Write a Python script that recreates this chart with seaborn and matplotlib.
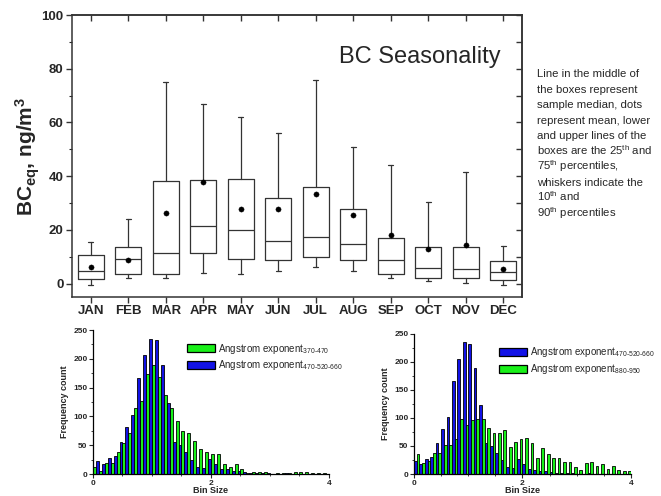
import numpy as np
import pandas as pd
import matplotlib
matplotlib.use("Agg")
import matplotlib.pyplot as plt
import seaborn as sns
from matplotlib.ticker import MultipleLocator

sns.set_style("ticks")
plt.rcParams['font.family'] = ['Liberation Sans', 'DejaVu Sans']
plt.rcParams['mathtext.fontset'] = 'custom'
plt.rcParams['mathtext.rm'] = 'Liberation Sans'
plt.rcParams['mathtext.it'] = 'Liberation Sans:italic'
plt.rcParams['mathtext.bf'] = 'Liberation Sans:bold'

# monthly BC box statistics (ng/m3)
months = ['JAN', 'FEB', 'MAR', 'APR', 'MAY', 'JUN', 'JUL', 'AUG', 'SEP', 'OCT', 'NOV', 'DEC']
p10 = [-0.6, 2.1, 2.2, 4.1, 3.7, 4.6, 6.2, 4.7, 2.2, 1.0, 0.2, -0.4]
p25 = [1.7, 3.7, 3.4, 11.2, 9.3, 8.8, 9.9, 8.8, 3.4, 2.2, 2.2, 1.5]
median = [4.6, 9.3, 11.2, 21.6, 19.8, 16.0, 17.3, 14.9, 8.9, 5.8, 5.5, 4.2]
p75 = [10.8, 13.5, 38.1, 38.4, 38.8, 32.0, 36.0, 27.6, 16.8, 13.7, 13.7, 8.3]
p90 = [15.5, 24.2, 75.2, 66.7, 62.1, 55.9, 75.7, 50.7, 44.2, 30.4, 41.4, 14.0]
mean = [6.0, 8.8, 26.1, 37.9, 27.7, 27.7, 33.5, 25.5, 18.0, 13.0, 14.5, 5.5]

# angstrom exponent histograms, bins of 0.1 from 0 to 4
bin_centres = np.round(np.arange(0.05, 4.0, 0.1), 2)
ae_370_470 = [13, 4.6, 19, 18.5, 37.6, 53, 70.6, 114, 126, 173, 189, 168, 137, 115, 92, 74, 71, 58, 43, 38,
              35, 34, 18, 12, 17, 8, 2, 4, 3, 3.5, 0.5, 1, 1, 2.5, 3, 3.5, 3, 1, 1, 1]
ae_470_520_660 = [23, 17, 27, 31, 56, 81, 102, 166, 206, 235, 233, 190, 123, 55, 50, 38, 25, 12, 11, 26,
                  17, 9, 8, 6, 6, 4, 1, 1.5, 2, 2, 0.5, 0.5, 1, 0.5, 0.5, 0.5, 0.3, 0.3, 0.5, 0.3]
ae_880_950 = [36, 19, 24, 37, 38, 52, 51, 62, 99, 87, 96, 99, 98, 83, 73, 74, 78, 48, 58, 62,
              64, 56, 28, 46, 35, 29, 28, 22, 21, 13, 7, 19, 21, 14, 17, 9, 14, 6.5, 5, 5]

lab_370 = 'Angstrom exponent$_{\\mathrm{370‐470}}$'
lab_470 = 'Angstrom exponent$_{\\mathrm{470‐520‐660}}$'
lab_880 = 'Angstrom exponent$_{\\mathrm{880‐950}}$'
note_lines = ['Line in the middle of',
              'the boxes represent',
              'sample median, dots',
              'represent mean, lower',
              'and upper lines of the',
              'boxes are the 25$^{\\mathrm{th}}$ and',
              '75$^{\\mathrm{th}}$ percentiles,',
              'whiskers indicate the',
              '10$^{\\mathrm{th}}$ and',
              '90$^{\\mathrm{th}}$ percentiles']
GREEN = '#19f019'
BLUE = '#1212e6'

fig = plt.figure(figsize=(6.61, 4.96), dpi=100)

# ---- top: box plot ----
ax = fig.add_axes([0.1089, 0.4012, 0.6808, 0.5685])
stats = []
for i in range(len(months)):
    stats.append(dict(whislo=p10[i], q1=p25[i], med=median[i], q3=p75[i], whishi=p90[i], fliers=[]))
lc = '#333333'
ax.bxp(stats, positions=range(len(months)), widths=0.7, capwidths=0.14, showfliers=False,
       boxprops=dict(color=lc, linewidth=0.9), medianprops=dict(color=lc, linewidth=0.9),
       whiskerprops=dict(color=lc, linewidth=0.9), capprops=dict(color=lc, linewidth=0.9))
sns.scatterplot(x=np.arange(len(months)), y=mean, color='black', s=14, edgecolor='black', zorder=5, ax=ax)

ax.set_xlim(-0.5, 11.5)
ax.set_ylim(-5, 100)
ax.set_xticks(range(len(months)))
ax.set_xticklabels(months, fontsize=9.5, fontweight='bold')
ax.set_yticks([0, 20, 40, 60, 80, 100])
ax.set_yticklabels(['0', '20', '40', '60', '80', '100'], fontsize=9.5, fontweight='bold')
ax.yaxis.set_minor_locator(MultipleLocator(10))
ax.tick_params(axis='both', which='major', direction='out', length=4, width=1, pad=2, color='#333333')
ax.tick_params(axis='y', which='minor', direction='out', length=2.5, width=0.8)
for s in ax.spines.values():
    s.set_linewidth(1.1)
    s.set_color('#333333')
secx = ax.secondary_xaxis('top')
secx.set_xticks(range(len(months)))
secx.tick_params(direction='in', length=4, width=1, labeltop=False, color='#333333')
secy = ax.secondary_yaxis('right')
secy.set_yticks(range(0, 101, 10))
secy.tick_params(direction='in', length=4, width=1, labelright=False, color='#333333')
for s in list(secx.spines.values()) + list(secy.spines.values()):
    s.set_linewidth(1.1)
    s.set_color('#333333')

ax.set_ylabel('BC$_{\\mathbf{eq}}$, ng/m$^{\\mathbf{3}}$', fontsize=15, fontweight='bold', labelpad=0)
ax.text(0.593, 0.829, 'BC Seasonality', transform=ax.transAxes, fontsize=17, va='baseline', ha='left')

# note beside the box plot, one line at a time so the spacing stays even
for k, line in enumerate(note_lines):
    fig.text(537 / 661, 1 - (77.3 + 15.5 * k) / 496, line, fontsize=8.2, va='baseline', ha='left')


def histogram(axh, first, second, lab_a, lab_b, col_a, col_b, legend_x):
    df = pd.DataFrame({'bin': np.concatenate([bin_centres, bin_centres]),
                       'count': np.concatenate([first, second]),
                       'series': [lab_a] * len(bin_centres) + [lab_b] * len(bin_centres)})
    sns.barplot(data=df, x='bin', y='count', hue='series', hue_order=[lab_a, lab_b],
                palette=[col_a, col_b], native_scale=True, width=1.0, dodge=True,
                edgecolor='black', linewidth=0.6, saturation=1, errorbar=None, ax=axh)
    axh.set_xlim(0, 4)
    axh.set_ylim(0, 250)
    axh.set_xticks([0, 2, 4])
    axh.set_xticklabels(['0', '2', '4'], fontsize=6, fontweight='bold')
    axh.set_yticks([0, 50, 100, 150, 200, 250])
    axh.set_yticklabels(['0', '50', '100', '150', '200', '250'], fontsize=6, fontweight='bold')
    axh.xaxis.set_minor_locator(MultipleLocator(0.5))
    axh.yaxis.set_minor_locator(MultipleLocator(25))
    axh.tick_params(which='major', length=3, width=0.8, pad=1)
    axh.tick_params(which='minor', length=1.5, width=0.6)
    sns.despine(ax=axh)
    for s in axh.spines.values():
        s.set_linewidth(0.9)
        s.set_color('black')
    axh.set_ylabel('Frequency count', fontsize=6.5, fontweight='bold', labelpad=3)
    axh.set_xlabel('Bin Size', fontsize=6.5, fontweight='bold', labelpad=-0.5)
    sns.move_legend(axh, 'upper left', bbox_to_anchor=(legend_x, 0.92), frameon=False, title=None,
                    fontsize=7, handlelength=2.9, handleheight=0.9, labelspacing=0.3,
                    handletextpad=0.3, borderpad=0, borderaxespad=0)
    for h in axh.get_legend().legend_handles:
        h.set_edgecolor('black')
        h.set_linewidth(0.9)


ax_l = fig.add_axes([0.1407, 0.04435, 0.3570, 0.2903])
histogram(ax_l, ae_370_470, ae_470_520_660, lab_370, lab_470, GREEN, BLUE, 0.398)

ax_r = fig.add_axes([0.6263, 0.04435, 0.3283, 0.2823])
histogram(ax_r, ae_470_520_660, ae_880_950, lab_470, lab_880, BLUE, GREEN, 0.392)

fig.savefig('out.png', dpi=100)
